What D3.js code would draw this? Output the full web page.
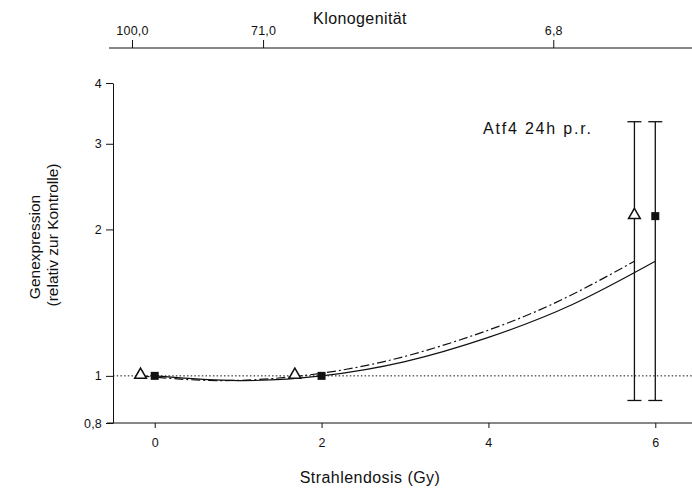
<!DOCTYPE html>
<html lang="de">
<head>
    <meta charset="UTF-8">
    <title>Atf4 24h p.r.</title>
    <script src="https://cdn.jsdelivr.net/npm/d3@7/dist/d3.min.js"></script>
    <style>
        body { margin: 0; background: #fff; }
        text { font-family: "Liberation Sans", Arial, sans-serif; fill: #111; }
    </style>
</head>
<body>
<script>
    const width = 692, height = 493;

    // Messpunkte (Dreieck / Quadrat)
    const triDose = [-0.17, 1.68, 5.75];
    const triVal = [1.0, 1.0, 2.13];
    const triLo = [null, null, 0.89];
    const triHi = [null, null, 3.33];

    const sqDose = [0, 2, 6];
    const sqVal = [1.0, 1.0, 2.13];
    const sqLo = [null, null, 0.89];
    const sqHi = [null, null, 3.33];

    // Regressionskurven
    const solidDose = [0, 1, 2, 3, 4, 5, 6];
    const solidVal = [1.0, 0.978, 1.0, 1.07, 1.20, 1.40, 1.72];
    const dashDose = [-0.17, 0.75, 1.75, 2.75, 3.75, 4.75, 5.75];
    const dashVal = [1.0, 0.978, 1.0, 1.07, 1.20, 1.40, 1.72];

    // Achsen
    const xTicks = [0, 2, 4, 6];
    const yTicks = [0.8, 1, 2, 3, 4];
    const topTicks = [100, 71, 6.8];
    const topLabels = ['100,0', '71,0', '6,8'];

    const svg = d3.select('body').append('svg')
        .attr('width', width)
        .attr('height', height);

    const x = d3.scaleLinear().domain([-0.5, 6.5]).range([113, 697]);
    const y = d3.scaleLog().domain([0.8, 4]).range([423, 83]);
    const xTop = d3.scaleLinear().domain([104.2, -25]).range([113, 697]);

    const fmt = d => String(d).replace('.', ',');

    // untere Achse
    const gx = svg.append('g')
        .attr('transform', `translate(0,${y(0.8)})`)
        .call(d3.axisBottom(x).tickValues(xTicks).tickFormat(d3.format('d'))
            .tickSize(5).tickSizeOuter(0).tickPadding(10));
    gx.select('.domain').attr('d', `M${x.range()[0] - 6},0H${width}`);

    // linke Achse
    const gy = svg.append('g')
        .attr('transform', `translate(${x(-0.5)},0)`)
        .call(d3.axisLeft(y).tickValues(yTicks).tickFormat(fmt).tickSize(7).tickSizeOuter(0).tickPadding(4));

    // obere Achse (Klonogenität)
    const gt = svg.append('g')
        .attr('transform', 'translate(0,48)')
        .call(d3.axisTop(xTop).tickValues(topTicks)
            .tickFormat((d, i) => topLabels[i]).tickSize(8).tickSizeOuter(0).tickPadding(5));
    gt.select('.domain').attr('d', `M${x.range()[0] - 4},0H${width}`);

    [gx, gy, gt].forEach(g => {
        g.selectAll('text').attr('font-size', 12.5).style('letter-spacing', '0.2px')
            .attr('font-family', null);
        g.selectAll('line, path').attr('stroke', '#111');
    });

    // Referenzlinie bei 1
    svg.append('line')
        .attr('x1', x(-0.5)).attr('x2', width)
        .attr('y1', y(1)).attr('y2', y(1))
        .attr('stroke', '#111')
        .attr('stroke-width', 1)
        .attr('stroke-dasharray', '1.5,2.2');

    // Kurven
    const line = d3.line()
        .x(d => x(d[0]))
        .y(d => y(d[1]))
        .curve(d3.curveNatural);

    svg.append('path')
        .attr('d', line(solidDose.map((d, i) => [d, solidVal[i]])))
        .attr('fill', 'none')
        .attr('stroke', '#111')
        .attr('stroke-width', 1.2);

    svg.append('path')
        .attr('d', line(dashDose.map((d, i) => [d, dashVal[i]])))
        .attr('fill', 'none')
        .attr('stroke', '#111')
        .attr('stroke-width', 1.2)
        .attr('stroke-dasharray', '9,3,2,3');

    // Fehlerbalken
    const errs = [];
    triDose.forEach((d, i) => { if (triLo[i] != null) errs.push([d, triLo[i], triHi[i]]); });
    sqDose.forEach((d, i) => { if (sqLo[i] != null) errs.push([d, sqLo[i], sqHi[i]]); });

    const eg = svg.append('g').attr('stroke', '#111').attr('stroke-width', 1.3);
    errs.forEach(e => {
        eg.append('line').attr('x1', x(e[0])).attr('x2', x(e[0])).attr('y1', y(e[1])).attr('y2', y(e[2]));
        eg.append('line').attr('x1', x(e[0]) - 7).attr('x2', x(e[0]) + 7).attr('y1', y(e[1])).attr('y2', y(e[1]));
        eg.append('line').attr('x1', x(e[0]) - 7).attr('x2', x(e[0]) + 7).attr('y1', y(e[2])).attr('y2', y(e[2]));
    });

    // Marker
    const tri = d3.symbol().type(d3.symbolTriangle).size(60);
    svg.append('g').selectAll('path')
        .data(triDose.map((d, i) => [d, triVal[i]]))
        .enter().append('path')
        .attr('d', tri)
        .attr('transform', d => `translate(${x(d[0])},${y(d[1]) - 1})`)
        .attr('fill', '#fff')
        .attr('stroke', '#111')
        .attr('stroke-width', 1.5);

    svg.append('g').selectAll('rect')
        .data(sqDose.map((d, i) => [d, sqVal[i]]))
        .enter().append('rect')
        .attr('x', d => x(d[0]) - 4)
        .attr('y', d => y(d[1]) - 4)
        .attr('width', 8)
        .attr('height', 8)
        .attr('fill', '#111');

    // Beschriftungen
    svg.append('text')
        .attr('x', 360).attr('y', 24)
        .attr('text-anchor', 'middle')
        .attr('font-size', 16)
        .style('letter-spacing', '0.4px')
        .text('Klonogenität');

    svg.append('text')
        .attr('x', 370).attr('y', 483)
        .attr('text-anchor', 'middle')
        .attr('font-size', 16)
        .style('letter-spacing', '0.45px')
        .text('Strahlendosis (Gy)');

    svg.append('text')
        .attr('x', 483).attr('y', 134)
        .attr('font-size', 16)
        .style('letter-spacing', '1.8px')
        .text('Atf4 24h p.r.');

    svg.append('text')
        .attr('transform', 'translate(40,247) rotate(-90)')
        .attr('text-anchor', 'middle')
        .attr('font-size', 15.5)
        .text('Genexpression');

    svg.append('text')
        .attr('transform', 'translate(58,235) rotate(-90)')
        .attr('text-anchor', 'middle')
        .attr('font-size', 15.5)
        .text('(relativ zur Kontrolle)');
</script>
</body>
</html>
